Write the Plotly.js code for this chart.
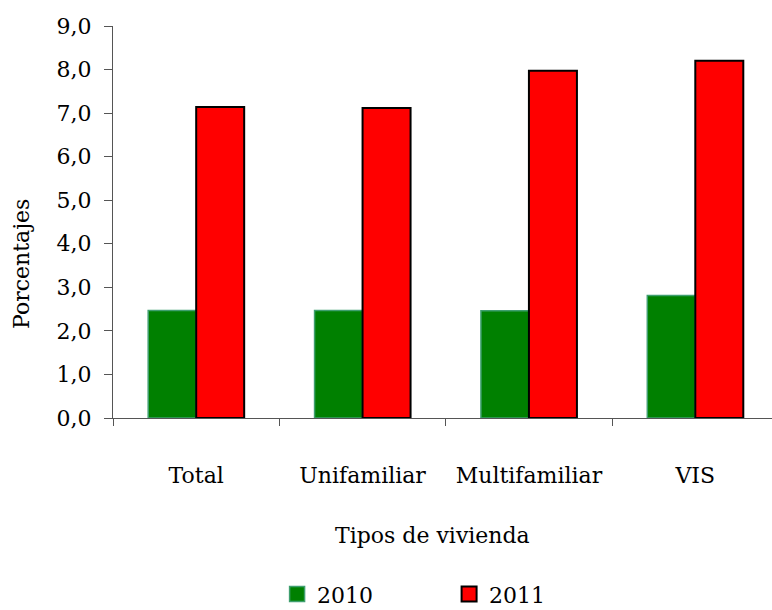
<!DOCTYPE html>
<html>
<head>
<meta charset="utf-8">
<script src="https://cdn.plot.ly/plotly-3.0.1.min.js"></script>
<style>html,body{margin:0;padding:0;background:#fff;}#chart{width:772px;height:610px;}</style>
</head>
<body>
<div id="chart"></div>
<script>
const categories = ["Total", "Unifamiliar", "Multifamiliar", "VIS"];
const series2010 = [2.47, 2.47, 2.46, 2.81];
const series2011 = [7.14, 7.12, 7.97, 8.20];
const seriesNames = ["2010", "2011"];
const yTickVals = [0, 1, 2, 3, 4, 5, 6, 7, 8, 9];
const yTickText = ["0,0", "1,0", "2,0", "3,0", "4,0", "5,0", "6,0", "7,0", "8,0", "9,0"];

const FONT = "DejaVu Serif, Liberation Serif, serif";
const FS = 22;

const green = {fill: "#008000", edge: "#3f9f6f"};
const red = {fill: "#ff0000", edge: "#000000"};

const traces = [
  {
    type: "bar", name: seriesNames[0], x: categories, y: series2010, showlegend: false,
    marker: {color: green.fill, line: {color: green.edge, width: 1.5}},
    hoverinfo: "skip"
  },
  {
    type: "bar", name: seriesNames[1], x: categories, y: series2011, showlegend: false,
    marker: {color: red.fill, line: {color: red.edge, width: 2}},
    hoverinfo: "skip"
  },
  {
    type: "scatter", mode: "markers", name: seriesNames[0], x: [categories[0]], y: [null],
    marker: {symbol: "square", size: 15, color: green.fill, line: {color: green.edge, width: 1.5}},
    hoverinfo: "skip"
  },
  {
    type: "scatter", mode: "markers", name: seriesNames[1], x: [categories[0]], y: [null],
    marker: {symbol: "square", size: 15, color: red.fill, line: {color: red.edge, width: 2}},
    hoverinfo: "skip"
  }
];

const layout = {
  width: 772, height: 610,
  margin: {l: 113, r: 0, t: 26, b: 192, autoexpand: false},
  paper_bgcolor: "#ffffff", plot_bgcolor: "#ffffff",
  font: {family: FONT, size: FS, color: "#000000"},
  barmode: "group",
  bargap: 0.423, bargroupgap: 0,
  showlegend: true,
  legend: {orientation: "h", x: 0.249, xanchor: "left", yref: "paper", y: -0.503, yanchor: "bottom",
           font: {family: FONT, size: FS}, entrywidth: 127, itemwidth: 30, tracegroupgap: 0},
  xaxis: {
    type: "category", range: [-0.5, 3.461],
    showline: true, linecolor: "#555555", linewidth: 1,
    ticks: "outside", tickson: "boundaries", ticklen: 7, tickcolor: "#555555",
    ticklabelstandoff: 38,
    showgrid: false, zeroline: false,
    tickfont: {family: FONT, size: FS}
  },
  yaxis: {
    range: [0, 9], tickvals: yTickVals, ticktext: yTickText,
    showline: true, linecolor: "#555555", linewidth: 1,
    ticks: "outside", ticklen: 8, tickcolor: "#555555",
    ticklabelstandoff: 8,
    showgrid: false, zeroline: false,
    tickfont: {family: FONT, size: FS}
  },
  annotations: [
    {text: "Tipos de vivienda", xref: "paper", yref: "paper", x: 0.485, y: -0.30,
     xanchor: "center", yanchor: "middle", showarrow: false, font: {family: FONT, size: FS}},
    {text: "Porcentajes", xref: "paper", yref: "paper", x: -0.138, y: 0.393,
     xanchor: "center", yanchor: "middle", textangle: -90, showarrow: false, font: {family: FONT, size: FS}}
  ]
};

Plotly.newPlot("chart", traces, layout, {displayModeBar: false, staticPlot: true});
</script>
</body>
</html>
